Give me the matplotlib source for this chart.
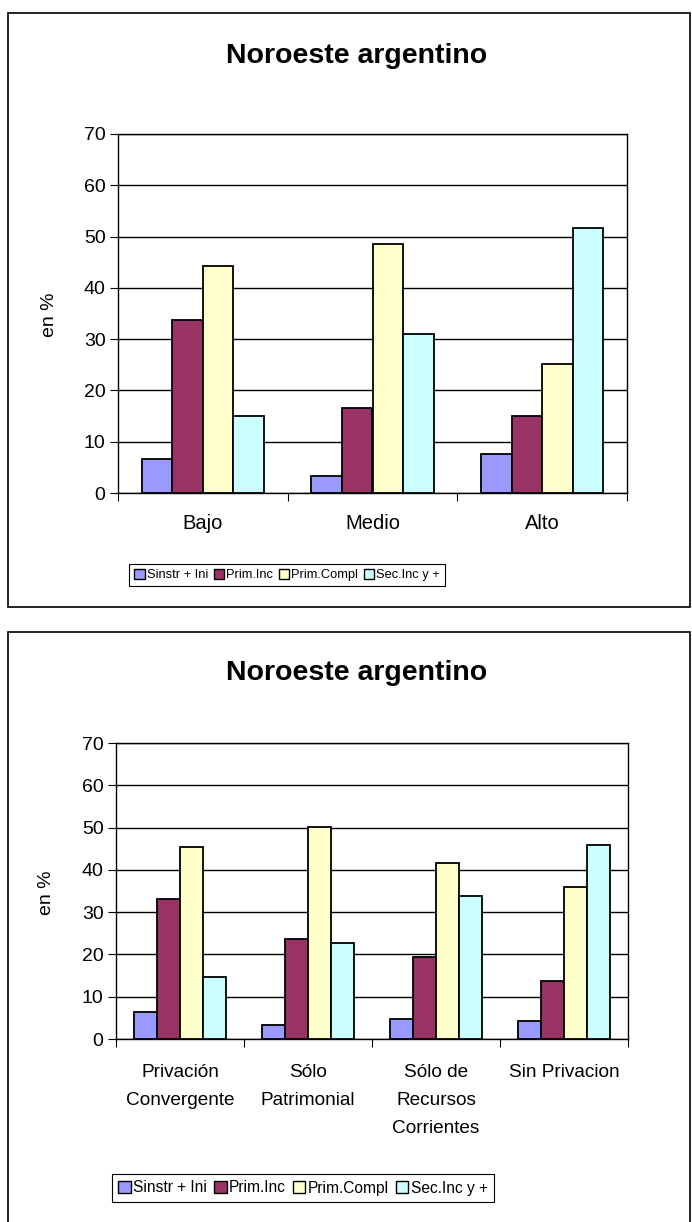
import matplotlib
matplotlib.use("Agg")
import matplotlib.pyplot as plt
from matplotlib.patches import Rectangle, Patch
import numpy as np

plt.rcParams['font.family'] = ['Liberation Sans', 'DejaVu Sans']

series = ['Sinstr + Ini', 'Prim.Inc', 'Prim.Compl', 'Sec.Inc y +']
colors = ['#9999FF', '#993366', '#FFFFCC', '#CCFFFF']

# grafico 1: por nivel
cats1 = ['Bajo', 'Medio', 'Alto']
sinstr1 = [6.6, 3.4, 7.6]
priminc1 = [33.8, 16.6, 15.0]
primcompl1 = [44.2, 48.6, 25.2]
secinc1 = [15.0, 31.0, 51.7]

# grafico 2: por tipo de privacion
cats2 = ['Privación\nConvergente', 'Sólo\nPatrimonial', 'Sólo de\nRecursos\nCorrientes', 'Sin Privacion']
sinstr2 = [6.5, 3.2, 4.7, 4.2]
priminc2 = [33.0, 23.6, 19.5, 13.7]
primcompl2 = [45.4, 50.2, 41.6, 35.9]
secinc2 = [14.7, 22.7, 33.9, 45.9]

W, H = 692, 1222
fig = plt.figure(figsize=(W / 100, H / 100), dpi=100)


def px_axes(l, t, r, b):
    return fig.add_axes([l / W, 1 - b / H, (r - l) / W, (b - t) / H])


def frame(l, t, r, b):
    fig.patches.append(Rectangle((l / W, 1 - b / H), (r - l) / W, (b - t) / H,
                                 transform=fig.transFigure, fill=False,
                                 edgecolor='black', lw=1.2, zorder=0))


def bars(ax, cats, data, xfs, label_pad):
    x = np.arange(len(cats))
    w = 0.18
    for i, vals in enumerate(data):
        ax.bar(x + (i - 1.5) * w, vals, w, color=colors[i], edgecolor='black',
               lw=1.3, zorder=3)
    ax.set_xlim(-0.5, len(cats) - 0.5)
    ax.set_ylim(0, 70)
    ax.set_yticks(range(0, 71, 10))
    ax.yaxis.grid(True, color='black', lw=1)
    ax.set_axisbelow(True)
    ax.set_xticks(np.arange(len(cats) + 1) - 0.5)
    ax.set_xticklabels([])
    ax.set_xticks(x, minor=True)
    ax.set_xticklabels(cats, minor=True, fontsize=xfs)
    for t in ax.get_xticklabels(minor=True):
        t.set_linespacing(1.85)
    ax.tick_params(axis='x', which='major', length=6, direction='out')
    ax.tick_params(axis='x', which='minor', length=0, pad=label_pad)
    ax.tick_params(axis='y', length=6, direction='out', labelsize=14, pad=3)
    for s in ax.spines.values():
        s.set_color('black')
        s.set_linewidth(1)


frame(8, 13, 690, 607)
frame(8, 632, 690, 1240)

ax1 = px_axes(118, 134, 627, 493)
bars(ax1, cats1, [sinstr1, priminc1, primcompl1, secinc1], 14.5, 15)
fig.text(357 / W, 1 - 56 / H, 'Noroeste argentino', ha='center', va='center',
         fontsize=20.5, fontweight='bold')
fig.text(49 / W, 1 - 315 / H, 'en %', ha='center', va='center', rotation=90,
         fontsize=14)

ax2 = px_axes(116, 743, 628, 1039)
bars(ax2, cats2, [sinstr2, priminc2, primcompl2, secinc2], 13.7, 18)
fig.text(357 / W, 1 - 673 / H, 'Noroeste argentino', ha='center', va='center',
         fontsize=20.5, fontweight='bold')
fig.text(47 / W, 1 - 893 / H, 'en %', ha='center', va='center', rotation=90,
         fontsize=14)

handles = [Patch(facecolor=c, edgecolor='black', lw=1) for c in colors]
for yc, xc, fs in [(575, 287, 9.3), (1188, 303, 11.2)]:
    leg = fig.legend(handles, series, loc='center', ncol=4,
                     bbox_to_anchor=(xc / W, 1 - yc / H), fontsize=fs,
                     handlelength=0.8, handleheight=0.8, handletextpad=0.15,
                     columnspacing=0.45, borderpad=0.4, fancybox=False,
                     edgecolor='black', framealpha=1)
    leg.get_frame().set_linewidth(0.8)

fig.savefig('out.png', dpi=100)
